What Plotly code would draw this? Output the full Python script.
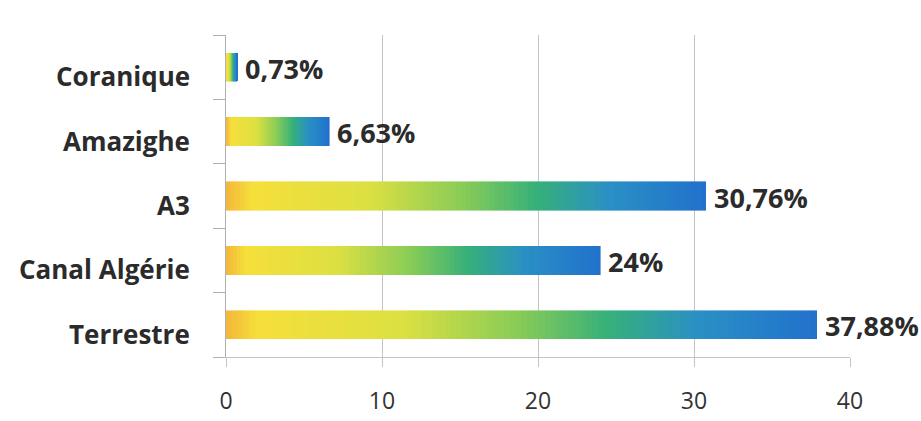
import plotly.graph_objects as go
from plotly.colors import sample_colorscale

categories = ["Terrestre", "Canal Algérie", "A3", "Amazighe", "Coranique"]
values = [37.88, 24, 30.76, 6.63, 0.73]
value_labels = ["37,88%", "24%", "30,76%", "6,63%", "0,73%"]
x_ticks = [0, 10, 20, 30, 40]

gradient = [
    [0.0, "#f2b93a"],
    [0.05, "#f6df3a"],
    [0.3, "#dbe042"],
    [0.5, "#86cb58"],
    [0.65, "#36b07a"],
    [0.8, "#2a90c4"],
    [1.0, "#2272cc"],
]

N = 100
seg_colors = sample_colorscale(gradient, [i / (N - 1) for i in range(N)])

fig = go.Figure()
for i in range(N):
    fig.add_trace(go.Bar(
        y=categories,
        x=[v / N for v in values],
        orientation="h",
        marker=dict(color=seg_colors[i], line=dict(color=seg_colors[i], width=0.6)),
        width=0.44,
        showlegend=False,
        hoverinfo="skip",
    ))

for cat, v, lab in zip(categories, values, value_labels):
    fig.add_annotation(
        x=v, y=cat, xref="x", yref="y",
        text=lab, showarrow=False,
        xanchor="left", yanchor="middle", xshift=6, yshift=-1,
        font=dict(family="Open Sans", size=27, color="#2b2b2b", weight="bold"),
    )

for cat in categories:
    fig.add_annotation(
        x=0, y=cat, xref="paper", yref="y",
        text=cat, showarrow=False,
        xanchor="right", yanchor="middle", xshift=-34, yshift=-9,
        font=dict(family="Open Sans", size=26, color="#2b2b2b", weight="bold"),
    )

fig.update_layout(
    width=921,
    height=421,
    barmode="stack",
    paper_bgcolor="white",
    plot_bgcolor="white",
    margin=dict(l=226, r=71, t=35, b=64),
    xaxis=dict(
        range=[0, 40],
        tickvals=x_ticks,
        ticktext=[str(t) for t in x_ticks],
        showgrid=True,
        gridcolor="#c4c4c4",
        gridwidth=1,
        zeroline=False,
        showline=True,
        linecolor="#c4c4c4",
        ticks="outside",
        ticklen=9,
        tickcolor="#c4c4c4",
        ticklabelstandoff=14,
        automargin=False,
        tickfont=dict(family="Open Sans", size=23, color="#333333"),
    ),
    yaxis=dict(
        categoryorder="array",
        categoryarray=categories,
        showline=True,
        linecolor="#b0b0b0",
        ticks="outside",
        tickson="boundaries",
        ticklen=12,
        tickcolor="#b0b0b0",
        showticklabels=False,
        showgrid=False,
        automargin=False,
    ),
)

fig.write_html("out.html")
